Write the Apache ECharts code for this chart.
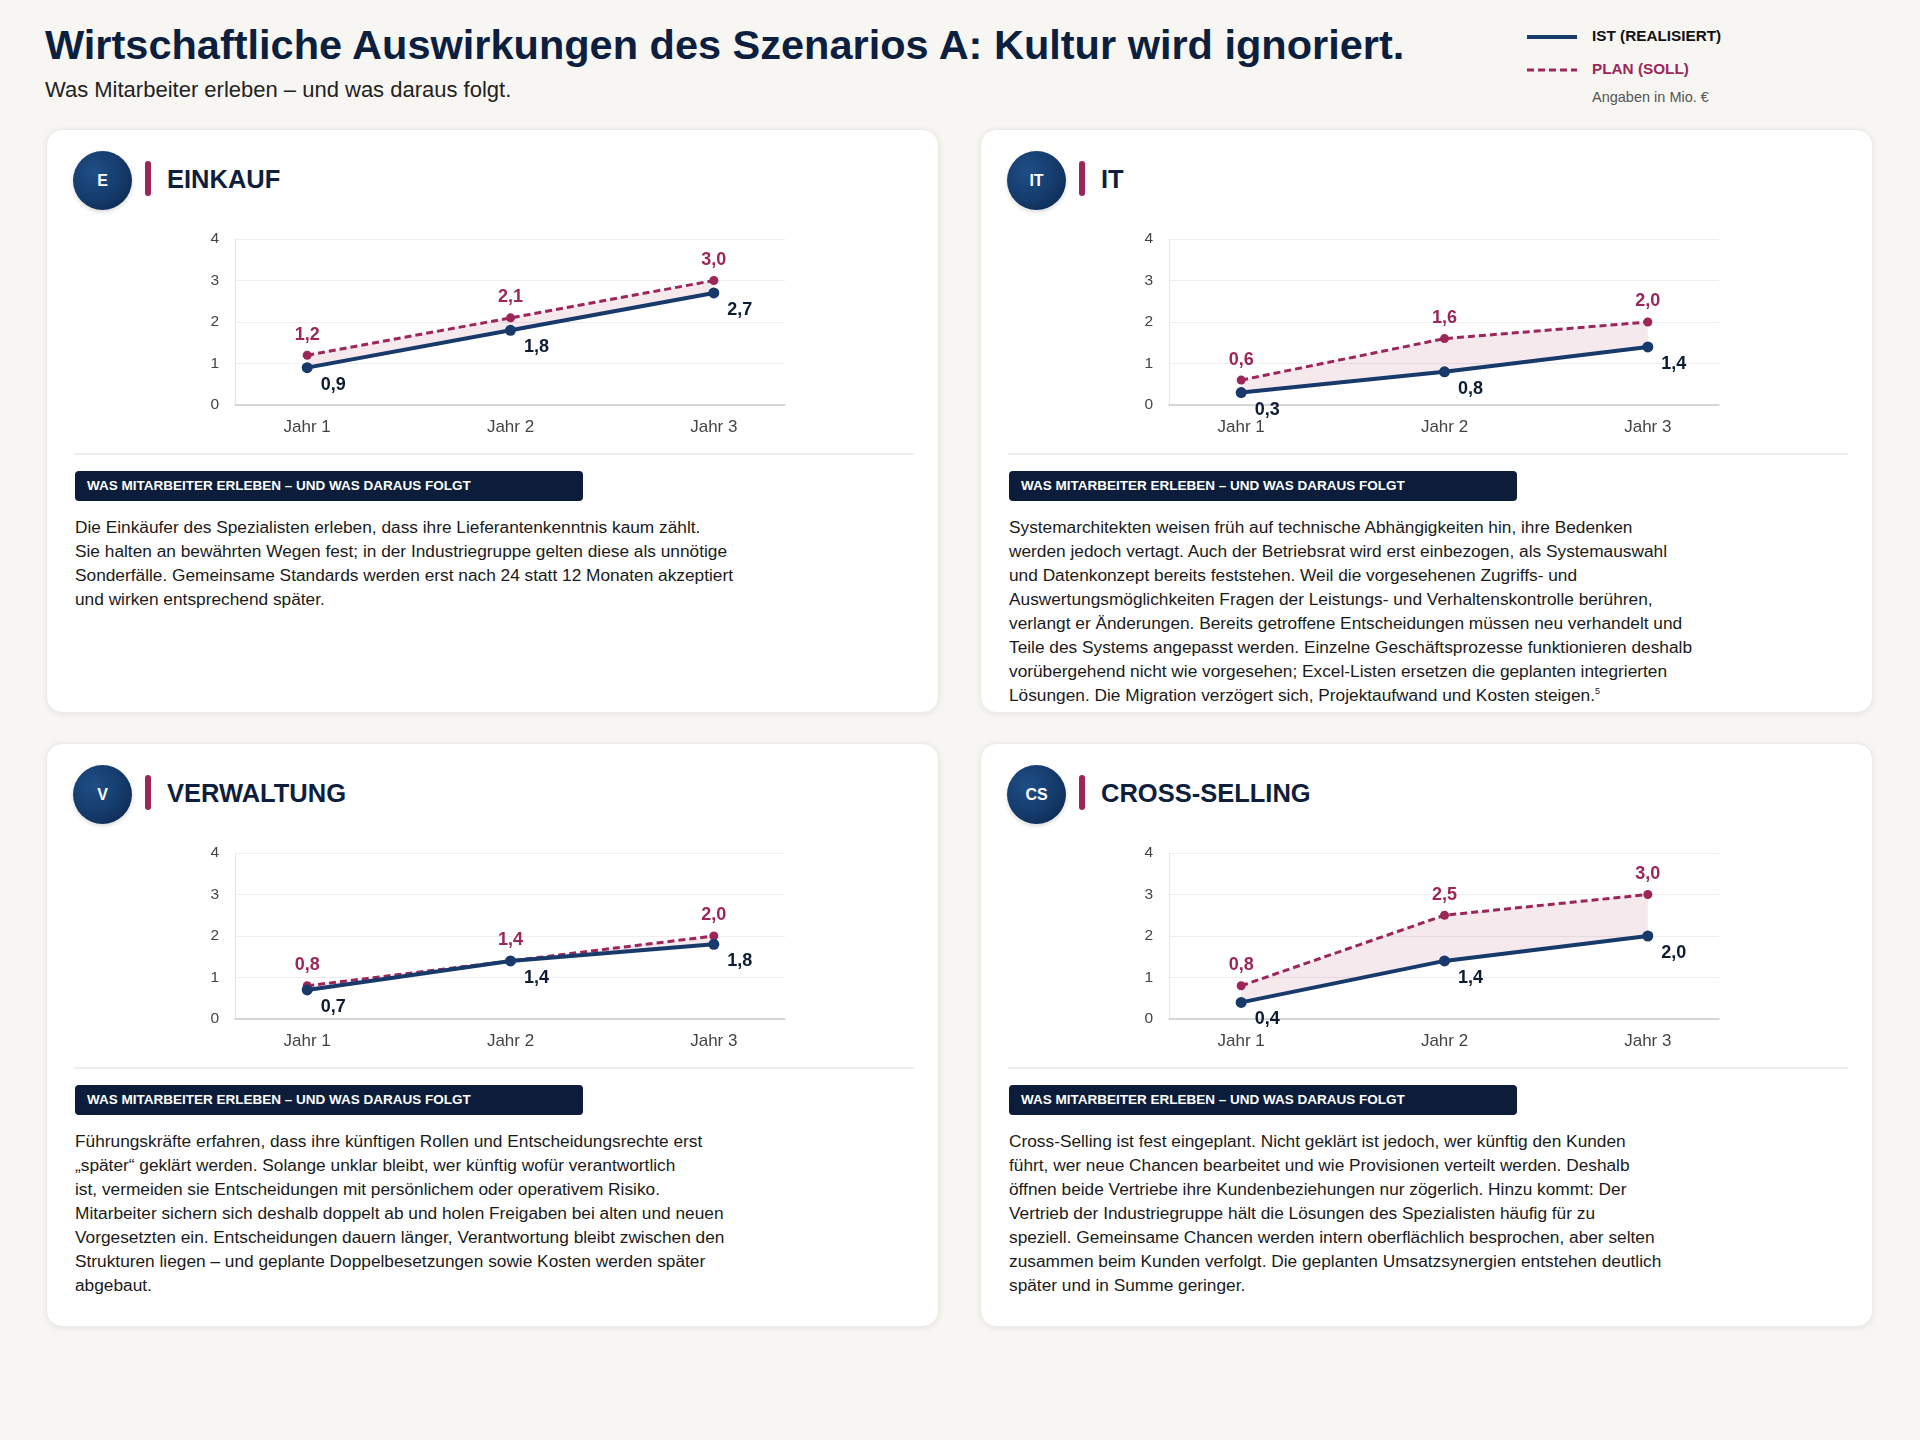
<!DOCTYPE html>
<html lang="de">
<head>
<meta charset="utf-8">
<title>Szenario A</title>
<script src="https://cdn.jsdelivr.net/npm/echarts@6/dist/echarts.min.js"></script>
<style>
  body { margin: 0; width: 1920px; height: 1440px; background: #f7f6f3; font-family: "Liberation Sans", Arial, sans-serif; position: relative; overflow: hidden; }
  h1 { position: absolute; left: 45px; top: 21px; margin: 0; font-size: 41.5px; font-weight: bold; color: #0c1f3f; letter-spacing: 0; }
  .sub { position: absolute; left: 45px; top: 77px; font-size: 22px; color: #222; }
  .legend { position: absolute; left: 1527px; top: 25px; }
  .legend .row { position: relative; height: 33px; }
  .legend svg { position: absolute; left: 0; top: 6px; }
  .legend span { position: absolute; left: 65px; top: 2px; font-size: 15.3px; font-weight: bold; white-space: nowrap; }
  .legend .note { position: absolute; left: 65px; top: 64px; font-size: 14.5px; color: #555; white-space: nowrap; }
  .card { position: absolute; width: 893px; height: 584px; background: #fff; border-radius: 16px; box-shadow: 0 1px 6px rgba(0,0,0,0.08); border: 1px solid #ecebe8; box-sizing: border-box; }
  .badge { position: absolute; left: 26px; top: 21px; width: 59px; height: 59px; border-radius: 50%; background: radial-gradient(circle at 35% 35%, #1f4e86 0%, #143a6a 55%, #0a2246 100%); color: #fff; font-weight: bold; font-size: 16px; display: flex; align-items: center; justify-content: center; box-shadow: 0 2px 4px rgba(0,0,0,0.15); }
  .bar { position: absolute; left: 98px; top: 31px; width: 6px; height: 35px; border-radius: 3px; background: #9c2659; }
  .ctitle { position: absolute; left: 120px; top: 35px; font-size: 25.5px; font-weight: bold; color: #0e1e3d; }
  .chart { position: absolute; left: 0; top: 95px; width: 893px; height: 230px; }
  .divider { position: absolute; left: 27px; top: 323px; width: 840px; height: 2px; background: #efefef; }
  .banner { position: absolute; left: 28px; top: 341px; width: 508px; height: 30px; border-radius: 4px; background: #0b1d3a; color: #fff; font-size: 13.5px; font-weight: bold; line-height: 30px; padding-left: 12px; box-sizing: border-box; }
  .text { position: absolute; left: 28px; top: 385px; font-size: 17.3px; line-height: 24px; color: #1a1a1a; white-space: pre-line; }
  .text sup { font-size: 9px; line-height: 0; }
</style>
</head>
<body>
<h1>Wirtschaftliche Auswirkungen des Szenarios A: Kultur wird ignoriert.</h1>
<div class="sub">Was Mitarbeiter erleben – und was daraus folgt.</div>
<div class="legend">
  <div class="row"><svg width="50" height="12"><line x1="0" y1="6" x2="50" y2="6" stroke="#173a6b" stroke-width="4"/></svg><span style="color:#111">IST (REALISIERT)</span></div>
  <div class="row"><svg width="50" height="12"><line x1="0" y1="6" x2="50" y2="6" stroke="#9c2659" stroke-width="3" stroke-dasharray="7,4"/></svg><span style="color:#9c2659">PLAN (SOLL)</span></div>
  <div class="note">Angaben in Mio. €</div>
</div>
<div id="cards"></div>
<script>
var years = ['Jahr 1', 'Jahr 2', 'Jahr 3'];
var yTicks = [0, 1, 2, 3, 4];

var einkaufIst = [0.9, 1.8, 2.7];
var einkaufPlan = [1.2, 2.1, 3.0];
var itIst = [0.3, 0.8, 1.4];
var itPlan = [0.6, 1.6, 2.0];
var verwaltungIst = [0.7, 1.4, 1.8];
var verwaltungPlan = [0.8, 1.4, 2.0];
var crossIst = [0.4, 1.4, 2.0];
var crossPlan = [0.8, 2.5, 3.0];

var cards = [
  {
    badge: 'E', title: 'EINKAUF', ist: einkaufIst, plan: einkaufPlan, left: 46, top: 129,
    text: 'Die Einkäufer des Spezialisten erleben, dass ihre Lieferantenkenntnis kaum zählt.\n' +
      'Sie halten an bewährten Wegen fest; in der Industriegruppe gelten diese als unnötige\n' +
      'Sonderfälle. Gemeinsame Standards werden erst nach 24 statt 12 Monaten akzeptiert\n' +
      'und wirken entsprechend später.'
  },
  {
    badge: 'IT', title: 'IT', ist: itIst, plan: itPlan, left: 980, top: 129,
    text: 'Systemarchitekten weisen früh auf technische Abhängigkeiten hin, ihre Bedenken\n' +
      'werden jedoch vertagt. Auch der Betriebsrat wird erst einbezogen, als Systemauswahl\n' +
      'und Datenkonzept bereits feststehen. Weil die vorgesehenen Zugriffs- und\n' +
      'Auswertungsmöglichkeiten Fragen der Leistungs- und Verhaltenskontrolle berühren,\n' +
      'verlangt er Änderungen. Bereits getroffene Entscheidungen müssen neu verhandelt und\n' +
      'Teile des Systems angepasst werden. Einzelne Geschäftsprozesse funktionieren deshalb\n' +
      'vorübergehend nicht wie vorgesehen; Excel-Listen ersetzen die geplanten integrierten\n' +
      'Lösungen. Die Migration verzögert sich, Projektaufwand und Kosten steigen.<sup>5</sup>'
  },
  {
    badge: 'V', title: 'VERWALTUNG', ist: verwaltungIst, plan: verwaltungPlan, left: 46, top: 743,
    text: 'Führungskräfte erfahren, dass ihre künftigen Rollen und Entscheidungsrechte erst\n' +
      '„später“ geklärt werden. Solange unklar bleibt, wer künftig wofür verantwortlich\n' +
      'ist, vermeiden sie Entscheidungen mit persönlichem oder operativem Risiko.\n' +
      'Mitarbeiter sichern sich deshalb doppelt ab und holen Freigaben bei alten und neuen\n' +
      'Vorgesetzten ein. Entscheidungen dauern länger, Verantwortung bleibt zwischen den\n' +
      'Strukturen liegen – und geplante Doppelbesetzungen sowie Kosten werden später\n' +
      'abgebaut.'
  },
  {
    badge: 'CS', title: 'CROSS-SELLING', ist: crossIst, plan: crossPlan, left: 980, top: 743,
    text: 'Cross-Selling ist fest eingeplant. Nicht geklärt ist jedoch, wer künftig den Kunden\n' +
      'führt, wer neue Chancen bearbeitet und wie Provisionen verteilt werden. Deshalb\n' +
      'öffnen beide Vertriebe ihre Kundenbeziehungen nur zögerlich. Hinzu kommt: Der\n' +
      'Vertrieb der Industriegruppe hält die Lösungen des Spezialisten häufig für zu\n' +
      'speziell. Gemeinsame Chancen werden intern oberflächlich besprochen, aber selten\n' +
      'zusammen beim Kunden verfolgt. Die geplanten Umsatzsynergien entstehen deutlich\n' +
      'später und in Summe geringer.'
  }
];

var navy = '#173a6b';
var magenta = '#9c2659';

function fmt(v) {
  return v.toFixed(1).replace('.', ',');
}

function pairs(arr) {
  return arr.map(function (v, i) { return [i, v]; });
}

function buildOption(ist, plan) {
  return {
    animation: false,
    grid: { left: 188, top: 14, width: 550, height: 166 },
    xAxis: {
      type: 'value',
      min: -0.355,
      max: 2.35,
      splitLine: { show: false },
      axisTick: { show: false },
      axisLine: { show: true, lineStyle: { color: '#cccccc', width: 1.5 } },
      axisLabel: {
        customValues: [0, 1, 2],
        formatter: function (v) { return years[Math.round(v)]; },
        color: '#444', fontSize: 17, margin: 14,
        fontFamily: 'Liberation Sans'
      }
    },
    yAxis: {
      type: 'value',
      min: 0,
      max: 4,
      interval: 1,
      axisLine: { show: true, onZero: false, lineStyle: { color: '#e6e6e6' } },
      axisTick: { show: false },
      splitLine: { lineStyle: { color: '#eeeeee' } },
      axisLabel: {
        formatter: function (v) { return yTicks.indexOf(v) >= 0 ? String(v) : ''; },
        color: '#444', fontSize: 15.5, margin: 16,
        fontFamily: 'Liberation Sans'
      }
    },
    series: [
      {
        type: 'custom',
        silent: true,
        z: 1,
        data: [[0, 0]],
        renderItem: function (params, api) {
          var top = plan.map(function (v, i) { return api.coord([i, v]); });
          var bottom = ist.map(function (v, i) { return api.coord([i, v]); }).reverse();
          return {
            type: 'polygon',
            shape: { points: top.concat(bottom) },
            style: { fill: 'rgba(156, 38, 89, 0.10)' }
          };
        }
      },
      {
        name: 'PLAN (SOLL)',
        type: 'line',
        z: 2,
        data: pairs(plan),
        symbol: 'circle',
        symbolSize: 9,
        itemStyle: { color: magenta },
        lineStyle: { color: magenta, width: 3, type: [7, 4] },
        label: {
          show: true,
          position: 'top',
          distance: 7,
          color: magenta,
          fontWeight: 'bold',
          fontSize: 18,
          fontFamily: 'Liberation Sans',
          formatter: function (p) { return fmt(p.value[1]); }
        }
      },
      {
        name: 'IST (REALISIERT)',
        type: 'line',
        z: 3,
        data: pairs(ist),
        symbol: 'circle',
        symbolSize: 11,
        itemStyle: { color: navy },
        lineStyle: { color: navy, width: 4 },
        label: {
          show: true,
          position: 'right',
          distance: 8,
          offset: [0, 17],
          color: '#0d1b33',
          fontWeight: 'bold',
          fontSize: 18,
          fontFamily: 'Liberation Sans',
          formatter: function (p) { return fmt(p.value[1]); }
        }
      }
    ]
  };
}

var holder = document.getElementById('cards');
cards.forEach(function (c, idx) {
  var el = document.createElement('div');
  el.className = 'card';
  el.style.left = c.left + 'px';
  el.style.top = c.top + 'px';
  el.innerHTML =
    '<div class="badge">' + c.badge + '</div>' +
    '<div class="bar"></div>' +
    '<div class="ctitle">' + c.title + '</div>' +
    '<div class="chart" id="chart' + idx + '"></div>' +
    '<div class="divider"></div>' +
    '<div class="banner">WAS MITARBEITER ERLEBEN – UND WAS DARAUS FOLGT</div>' +
    '<div class="text">' + c.text + '</div>';
  holder.appendChild(el);
  var chart = echarts.init(document.getElementById('chart' + idx));
  chart.setOption(buildOption(c.ist, c.plan));
});
</script>
</body>
</html>
